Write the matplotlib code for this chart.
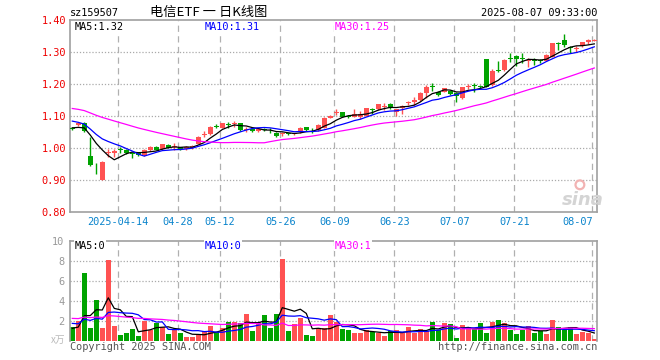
import numpy as np
import pandas as pd
import matplotlib
matplotlib.use('Agg')
import matplotlib.pyplot as plt

# daily candles 2025-04-01 .. 2025-08-07
opens = [1.064, 1.071, 1.079, 0.975, 0.939, 0.900, 0.983, 0.983, 0.996, 0.994,
         0.985, 0.985, 0.978, 0.994, 1.003, 0.996, 1.009, 1.003, 1.002, 0.997,
         1.000, 1.013, 1.040, 1.043, 1.068, 1.064, 1.076, 1.075, 1.077, 1.057,
         1.060, 1.052, 1.058, 1.057, 1.048, 1.043, 1.046, 1.043, 1.049, 1.065,
         1.057, 1.056, 1.064, 1.095, 1.108, 1.111, 1.101, 1.098, 1.098, 1.101,
         1.122, 1.121, 1.127, 1.138, 1.114, 1.124, 1.140, 1.144, 1.150, 1.171,
         1.195, 1.176, 1.176, 1.179, 1.173, 1.155, 1.190, 1.197, 1.193, 1.277,
         1.197, 1.244, 1.244, 1.282, 1.288, 1.281, 1.271, 1.274, 1.274, 1.273,
         1.285, 1.327, 1.338, 1.317, 1.309, 1.318, 1.332, 1.335]
highs = [1.067, 1.079, 1.081, 1.035, 0.954, 0.958, 0.998, 0.998, 1.002, 0.996,
         0.987, 0.987, 0.996, 1.006, 1.005, 1.013, 1.011, 1.017, 1.004, 1.005,
         1.008, 1.037, 1.054, 1.069, 1.075, 1.079, 1.081, 1.083, 1.079, 1.065,
         1.062, 1.060, 1.062, 1.064, 1.050, 1.050, 1.048, 1.046, 1.066, 1.067,
         1.064, 1.074, 1.097, 1.104, 1.121, 1.113, 1.104, 1.122, 1.116, 1.126,
         1.124, 1.139, 1.140, 1.140, 1.123, 1.134, 1.148, 1.160, 1.175, 1.196,
         1.202, 1.178, 1.188, 1.181, 1.175, 1.192, 1.200, 1.202, 1.197, 1.279,
         1.246, 1.273, 1.277, 1.298, 1.290, 1.298, 1.280, 1.280, 1.277, 1.293,
         1.329, 1.330, 1.356, 1.319, 1.318, 1.332, 1.340, 1.340]
lows = [1.057, 1.069, 1.050, 0.944, 0.918, 0.899, 0.971, 0.973, 0.985, 0.980,
        0.968, 0.975, 0.976, 0.992, 0.993, 0.994, 0.999, 0.995, 0.995, 0.995,
        0.998, 1.011, 1.033, 1.041, 1.062, 1.062, 1.061, 1.065, 1.054, 1.050,
        1.049, 1.050, 1.052, 1.048, 1.034, 1.036, 1.040, 1.041, 1.047, 1.054,
        1.048, 1.054, 1.062, 1.093, 1.102, 1.096, 1.094, 1.096, 1.091, 1.099,
        1.106, 1.119, 1.120, 1.122, 1.101, 1.106, 1.134, 1.135, 1.148, 1.155,
        1.179, 1.164, 1.174, 1.167, 1.145, 1.153, 1.183, 1.176, 1.183, 1.190,
        1.195, 1.236, 1.242, 1.270, 1.257, 1.265, 1.254, 1.259, 1.265, 1.271,
        1.283, 1.306, 1.317, 1.296, 1.300, 1.316, 1.326, 1.334]
closes = [1.059, 1.077, 1.054, 0.946, 0.936, 0.957, 0.987, 0.990, 0.993, 0.984,
          0.982, 0.978, 0.994, 1.004, 0.995, 1.011, 1.001, 1.006, 0.997, 1.002,
          1.006, 1.035, 1.045, 1.067, 1.065, 1.077, 1.073, 1.078, 1.056, 1.060,
          1.052, 1.058, 1.055, 1.055, 1.037, 1.048, 1.043, 1.044, 1.064, 1.056,
          1.055, 1.072, 1.095, 1.101, 1.112, 1.098, 1.098, 1.106, 1.105, 1.124,
          1.120, 1.137, 1.130, 1.124, 1.121, 1.132, 1.143, 1.150, 1.173, 1.192,
          1.192, 1.166, 1.186, 1.169, 1.163, 1.190, 1.193, 1.194, 1.190, 1.192,
          1.241, 1.241, 1.275, 1.279, 1.278, 1.279, 1.274, 1.272, 1.271, 1.291,
          1.327, 1.324, 1.322, 1.311, 1.312, 1.330, 1.336, 1.338]
vols = [1.40, 1.97, 6.77, 1.27, 4.07, 1.27, 8.07, 1.47, 0.57, 0.77,
        1.17, 0.47, 2.00, 1.07, 1.80, 1.40, 0.67, 1.17, 0.73, 0.33,
        0.33, 0.57, 1.00, 1.47, 0.90, 1.23, 1.83, 1.83, 1.73, 2.67,
        0.97, 1.83, 2.57, 1.27, 2.67, 8.17, 0.97, 1.67, 2.27, 0.57,
        0.47, 1.23, 1.23, 2.57, 1.90, 1.17, 1.07, 0.77, 0.77, 1.07,
        0.90, 0.77, 0.47, 0.97, 1.07, 0.77, 1.37, 0.77, 1.17, 0.97,
        1.87, 1.07, 1.77, 1.67, 0.27, 1.57, 1.37, 1.17, 1.77, 0.77,
        1.87, 2.07, 1.77, 1.07, 0.67, 1.07, 1.47, 0.77, 0.97, 0.67,
        2.07, 1.37, 1.07, 1.37, 0.67, 0.87, 0.77, 0.17]

# sessions before the window, only needed so the moving averages start where the chart shows them
prev_close = [1.160, 1.170, 1.165, 1.160, 1.155, 1.150, 1.160, 1.155, 1.145, 1.150,
              1.140, 1.135, 1.140, 1.130, 1.135, 1.125, 1.130, 1.120, 1.125, 1.115,
              1.115, 1.110, 1.100, 1.105, 1.095, 1.070, 1.062, 1.058, 1.066]
prev_vol = [2.6, 2.3, 2.9, 2.2, 2.5, 2.7, 2.4, 2.3, 2.6, 2.5,
            2.8, 2.2, 2.4, 2.6, 2.3, 2.5, 2.4, 2.6, 2.3, 2.5,
            2.4, 2.1, 2.5, 2.0, 2.15, 1.3, 1.1, 1.2, 1.16]

date_idx = [8, 18, 25, 35, 44, 54, 64, 74, 87]
date_lbl = ['2025-04-14', '04-28', '05-12', '05-26', '06-09', '06-23', '07-07', '07-21', '08-07']
price_ticks = [0.80, 0.90, 1.00, 1.10, 1.20, 1.30, 1.40]
vol_ticks = [2, 4, 6, 8, 10]

RED = '#ff5252'
GREEN = '#00a300'
MONO = 'DejaVu Sans Mono'
CJK = ['Noto Sans CJK SC', 'DejaVu Sans']


def ma(prev, vals, n):
    s = pd.Series(list(prev) + list(vals)).rolling(n).mean().to_numpy()
    return s[len(prev):]


n = len(closes)
x = np.arange(n)
o = np.array(opens); c = np.array(closes); h = np.array(highs); l = np.array(lows)
v = np.array(vols)
cols = [RED if c[i] >= o[i] else GREEN for i in range(n)]

W, H = 660, 360
fig = plt.figure(figsize=(6.6, 3.6), dpi=100)
fig.patch.set_facecolor('white')


def fx(px):
    return px / W


def fy(py):
    return 1 - py / H


ax = fig.add_axes([fx(70), fy(212), 527 / W, 192 / H])
axv = fig.add_axes([fx(70), fy(340.7), 527 / W, 100 / H])

xl = (-0.38, 87.45)
for a in (ax, axv):
    a.set_xlim(*xl)
    a.set_xticks([])
    for s in a.spines.values():
        s.set_color('#a0a0a0')
        s.set_linewidth(1.2)
    for d in date_idx:
        a.axvline(d - 0.35, color='#b0b0b0', lw=0.9, ls=(0, (5, 3.5)), zorder=0)
axv.spines['bottom'].set_visible(False)

# price panel
ax.set_ylim(0.80, 1.40)
for t in price_ticks[1:-1]:
    ax.axhline(t, color='#aaaaaa', lw=0.9, ls=(0, (1, 1.5)), zorder=0)
ax.set_yticks(price_ticks)
ax.set_yticklabels(['%.2f' % t for t in price_ticks], family=MONO, fontsize=7.4, color='#ee0000')
ax.tick_params(axis='y', length=0, pad=3)

body_lo = np.minimum(o, c)
body_h = np.maximum(np.abs(c - o), 0.0025)
ax.vlines(x, l, h, colors=cols, lw=1.0, zorder=2)
ax.bar(x, body_h, bottom=body_lo, width=0.78, color=cols, linewidth=0, zorder=3)

ax.plot(x, ma(prev_close, closes, 5), color='black', lw=0.9, zorder=4)
ax.plot(x, ma(prev_close, closes, 10), color='#0000ff', lw=0.9, zorder=4)
ax.plot(x, ma(prev_close, closes, 30), color='#ff00ff', lw=0.9, zorder=4)

bb = dict(facecolor='white', edgecolor='none', pad=0.5)
fig.text(fx(75), fy(26.5), 'MA5:1.32', family=MONO, fontsize=7.4, color='black', va='center', bbox=bb)
fig.text(fx(205), fy(26.5), 'MA10:1.31', family=MONO, fontsize=7.4, color='#0000ff', va='center', bbox=bb)
fig.text(fx(334.7), fy(26.5), 'MA30:1.25', family=MONO, fontsize=7.4, color='#ff00ff', va='center', bbox=bb)

# sina watermark
fig.text(fx(583), fy(200), 'sina', fontsize=13, fontweight='bold', style='italic',
         color='#d4d4d4', ha='center', va='center')
ax.scatter([84.6], [0.885], s=40, facecolors='none', edgecolors='#f2b3b3', linewidths=1.6, zorder=1)

# date labels
for d, t in zip(date_idx, date_lbl):
    ha = 'right' if t == '08-07' else 'center'
    xx = d - 0.35 if ha == 'center' else d - 0.25
    ax.text(xx, -0.05, t, transform=ax.get_xaxis_transform(), ha=ha, va='center',
            family=MONO, fontsize=7.4, color='#0a84cc')

# volume panel
axv.set_ylim(0, 10)
for t in vol_ticks[:-1]:
    axv.axhline(t, color='#aaaaaa', lw=0.9, ls=(0, (1, 1.5)), zorder=0)
axv.set_yticks(vol_ticks)
axv.set_yticklabels([str(t) for t in vol_ticks], family=MONO, fontsize=7.4, color='#999999')
axv.tick_params(axis='y', length=0, pad=4)
axv.bar(x, v, width=0.8, color=cols, linewidth=0, zorder=2)
axv.plot(x, ma(prev_vol, vols, 5), color='black', lw=0.9, zorder=4)
axv.plot(x, ma(prev_vol, vols, 10), color='#0000ff', lw=0.9, zorder=4)
axv.plot(x, ma(prev_vol, vols, 30), color='#ff00ff', lw=0.9, zorder=4)
fig.text(fx(65), fy(340), 'x万', family=CJK, fontsize=7, color='#bbbbbb',
         ha='right', va='center', style='italic')

fig.text(fx(75), fy(245.7), 'MA5:0', family=MONO, fontsize=7.4, color='black', va='center', bbox=bb)
fig.text(fx(205), fy(245.7), 'MA10:0', family=MONO, fontsize=7.4, color='#0000ff', va='center', bbox=bb)
fig.text(fx(334.7), fy(245.7), 'MA30:1', family=MONO, fontsize=7.4, color='#ff00ff', va='center', bbox=bb)

# header / footer
fig.text(fx(69.5), fy(13), 'sz159507', family=MONO, fontsize=7.4, color='black', va='center')
fig.text(fx(209), fy(12.5), '电信ETF 一 日K线图', family=CJK, fontsize=9.5, color='black',
         ha='center', va='center')
fig.text(fx(597), fy(12.5), '2025-08-07 09:33:00', family=MONO, fontsize=7.4, color='black',
         ha='right', va='center')
fig.text(fx(69.5), fy(346.5), 'Copyright 2025 SINA.COM', family=MONO, fontsize=7.4,
         color='#555555', va='center')
fig.text(fx(597), fy(346.5), 'http://finance.sina.com.cn', family=MONO, fontsize=7.4,
         color='#555555', ha='right', va='center')

fig.savefig('out.png', dpi=100, facecolor='white')
